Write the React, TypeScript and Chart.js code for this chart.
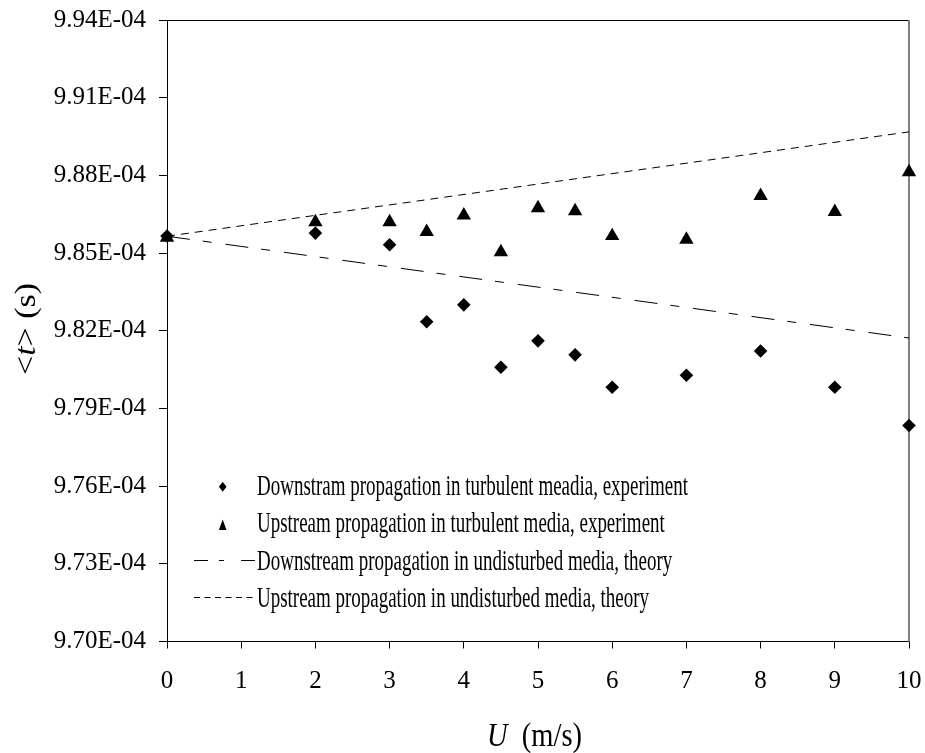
import React, { useEffect, useRef } from "react";
import { Chart, registerables } from "chart.js";

Chart.register(...registerables);

// ---- data ----
const uExp = [0, 2, 3, 3.5, 4, 4.5, 5, 5.5, 6, 7, 8, 9, 10];
const tDownExp = [
  9.8566e-4, 9.8577e-4, 9.8532e-4, 9.8235e-4, 9.83e-4, 9.8059e-4, 9.8161e-4,
  9.8107e-4, 9.7982e-4, 9.8028e-4, 9.8122e-4, 9.7982e-4, 9.7834e-4,
];
const tUpExp = [
  9.856e-4, 9.862e-4, 9.862e-4, 9.8582e-4, 9.8646e-4, 9.8504e-4, 9.8674e-4,
  9.8662e-4, 9.8566e-4, 9.8552e-4, 9.8721e-4, 9.8659e-4, 9.8813e-4,
];
const uTheory = [0, 10];
const tDownTheory = [9.8565e-4, 9.8172e-4];
const tUpTheory = [9.8565e-4, 9.8968e-4];

const yTickValues = [
  9.7e-4, 9.73e-4, 9.76e-4, 9.79e-4, 9.82e-4, 9.85e-4, 9.88e-4, 9.91e-4, 9.94e-4,
];
const xTickValues = [0, 1, 2, 3, 4, 5, 6, 7, 8, 9, 10];

const legendLabels = [
  "Downstram propagation in turbulent meadia, experiment",
  "Upstream propagation in turbulent media, experiment",
  "Downstream propagation in undisturbed media, theory",
  "Upstream propagation in undisturbed media, theory",
];

// ---- style ----
const FONT = "'Liberation Serif', 'Times New Roman', serif";

type Part = { text: string; italic?: boolean };

function measureParts(ctx: CanvasRenderingContext2D, parts: Part[], size: number) {
  const widths = parts.map((p) => {
    ctx.font = `${p.italic ? "italic " : ""}${size}px ${FONT}`;
    return ctx.measureText(p.text).width;
  });
  return { widths, total: widths.reduce((a, b) => a + b, 0) };
}

function drawParts(
  ctx: CanvasRenderingContext2D,
  parts: Part[],
  size: number,
  sx: number
) {
  const { widths } = measureParts(ctx, parts, size);
  ctx.save();
  ctx.scale(sx, 1);
  let cx = 0;
  parts.forEach((p, i) => {
    ctx.font = `${p.italic ? "italic " : ""}${size}px ${FONT}`;
    ctx.fillText(p.text, cx, 0);
    cx += widths[i];
  });
  ctx.restore();
}

const zeroScalePadding = (scale: any) => {
  scale.paddingTop = 0;
  scale.paddingBottom = 0;
  scale.paddingLeft = 0;
  scale.paddingRight = 0;
};

const framePlugin = {
  id: "frame",
  beforeDatasetsDraw(chart: any) {
    const { ctx, chartArea } = chart;
    const { left, right, top, bottom } = chartArea;
    ctx.save();
    ctx.strokeStyle = "#000";
    ctx.lineWidth = 1;
    ctx.beginPath();
    ctx.moveTo(left, Math.round(top) + 0.5);
    ctx.lineTo(right, Math.round(top) + 0.5);
    ctx.stroke();
    ctx.strokeStyle = "#808080";
    ctx.lineWidth = 2;
    ctx.beginPath();
    ctx.moveTo(right, top);
    ctx.lineTo(right, bottom);
    ctx.stroke();
    ctx.restore();
  },
};

const textPlugin = {
  id: "texts",
  afterDraw(chart: any) {
    const ctx: CanvasRenderingContext2D = chart.ctx;
    ctx.save();
    ctx.fillStyle = "#000";
    ctx.textBaseline = "alphabetic";
    ctx.textAlign = "left";

    // x axis title
    const xParts: Part[] = [{ text: "U", italic: true }, { text: "  (m/s)" }];
    const xm = measureParts(ctx, xParts, 34);
    ctx.save();
    ctx.translate(487, 746);
    drawParts(ctx, xParts, 34, 95 / xm.total);
    ctx.restore();

    // y axis title
    const yParts: Part[] = [
      { text: "<" },
      { text: "t", italic: true },
      { text: ">" },
      { text: " (s)" },
    ];
    const ym = measureParts(ctx, yParts, 29);
    ctx.save();
    ctx.translate(35, 375);
    ctx.rotate(-Math.PI / 2);
    drawParts(ctx, yParts, 29, 92 / ym.total);
    ctx.restore();

    // legend
    const lsize = 29;
    const lm = measureParts(ctx, [{ text: legendLabels[0] }], lsize);
    const lsx = 431 / lm.total;
    const textX = 257;
    const baselines = [495, 532, 569.5, 607];
    legendLabels.forEach((lab, i) => {
      ctx.save();
      ctx.translate(textX, baselines[i]);
      drawParts(ctx, [{ text: lab }], lsize, lsx);
      ctx.restore();
    });
    const mx = 222.7;
    // diamond
    let my = 486.7;
    ctx.beginPath();
    ctx.moveTo(mx, my - 5);
    ctx.lineTo(mx + 3.8, my);
    ctx.lineTo(mx, my + 5);
    ctx.lineTo(mx - 3.8, my);
    ctx.closePath();
    ctx.fill();
    // triangle
    my = 525;
    ctx.beginPath();
    ctx.moveTo(mx, my - 5.5);
    ctx.lineTo(mx + 3.8, my + 5);
    ctx.lineTo(mx - 3.8, my + 5);
    ctx.closePath();
    ctx.fill();
    // line samples
    ctx.strokeStyle = "#000";
    ctx.lineWidth = 1;
    ctx.setLineDash([14, 11, 5, 17]);
    ctx.beginPath();
    ctx.moveTo(194, 560.5);
    ctx.lineTo(256, 560.5);
    ctx.stroke();
    ctx.setLineDash([6, 4.5]);
    ctx.beginPath();
    ctx.moveTo(194, 597.5);
    ctx.lineTo(256, 597.5);
    ctx.stroke();
    ctx.restore();
  },
};

export default function App() {
  const ref = useRef<HTMLCanvasElement | null>(null);

  useEffect(() => {
    if (!ref.current) return;
    const toXY = (xs: number[], ys: number[]) => xs.map((x, i) => ({ x, y: ys[i] }));
    const chart = new Chart(ref.current, {
      type: "scatter",
      data: {
        datasets: [
          {
            label: legendLabels[0],
            data: toXY(uExp, tDownExp),
            pointStyle: "rectRot",
            pointRadius: 6.8,
            pointBackgroundColor: "#000",
            pointBorderColor: "#000",
            pointBorderWidth: 0,
            showLine: false,
            clip: false,
            order: 1,
          },
          {
            label: legendLabels[1],
            data: toXY(uExp, tUpExp),
            pointStyle: "triangle",
            pointRadius: 8.3,
            pointBackgroundColor: "#000",
            pointBorderColor: "#000",
            pointBorderWidth: 0,
            showLine: false,
            clip: false,
            order: 0,
          },
          {
            label: legendLabels[2],
            data: toXY(uTheory, tDownTheory),
            showLine: true,
            pointRadius: 0,
            borderColor: "#000",
            borderWidth: 1,
            borderDash: [23, 13, 9, 14],
            order: 2,
          },
          {
            label: legendLabels[3],
            data: toXY(uTheory, tUpTheory),
            showLine: true,
            pointRadius: 0,
            borderColor: "#000",
            borderWidth: 1,
            borderDash: [8, 6],
            order: 3,
          },
        ] as any,
      },
      options: {
        animation: false,
        responsive: true,
        maintainAspectRatio: false,
        layout: { padding: { top: 20, right: 16, left: 0, bottom: 0 } },
        plugins: {
          legend: { display: false },
          tooltip: { enabled: false },
          title: { display: false },
        },
        scales: {
          x: {
            type: "linear",
            min: 0,
            max: 10,
            afterBuildTicks: (scale: any) => {
              scale.ticks = xTickValues.map((v) => ({ value: v }));
            },
            afterFit: (scale: any) => {
              scale.height = 111.5;
              zeroScalePadding(scale);
            },
            grid: {
              display: true,
              drawOnChartArea: false,
              drawTicks: true,
              tickLength: 7,
              color: "#000",
              lineWidth: 1,
            },
            border: { display: true, color: "#000", width: 1 },
            ticks: {
              color: "#000",
              font: { family: FONT, size: 25 },
              padding: 18,
              maxRotation: 0,
              autoSkip: false,
              callback: (v: any) => String(v),
            },
          },
          y: {
            type: "linear",
            min: 9.7e-4,
            max: 9.94e-4,
            afterBuildTicks: (scale: any) => {
              scale.ticks = yTickValues.map((v) => ({ value: v }));
            },
            afterFit: (scale: any) => {
              scale.width = 167;
              zeroScalePadding(scale);
            },
            grid: {
              display: true,
              drawOnChartArea: false,
              drawTicks: true,
              tickLength: 8,
              color: "#000",
              lineWidth: 1,
            },
            border: { display: true, color: "#000", width: 1 },
            ticks: {
              color: "#000",
              font: { family: FONT, size: 25 },
              padding: 13,
              autoSkip: false,
              callback: (v: any) => (Number(v) * 1e4).toFixed(2) + "E-04",
            },
          },
        },
      } as any,
      plugins: [framePlugin, textPlugin],
    });
    return () => chart.destroy();
  }, []);

  return (
    <div
      style={{
        position: "absolute",
        left: 0,
        top: 0,
        width: 925,
        height: 753,
        background: "#fff",
      }}
    >
      <canvas ref={ref} />
    </div>
  );
}
